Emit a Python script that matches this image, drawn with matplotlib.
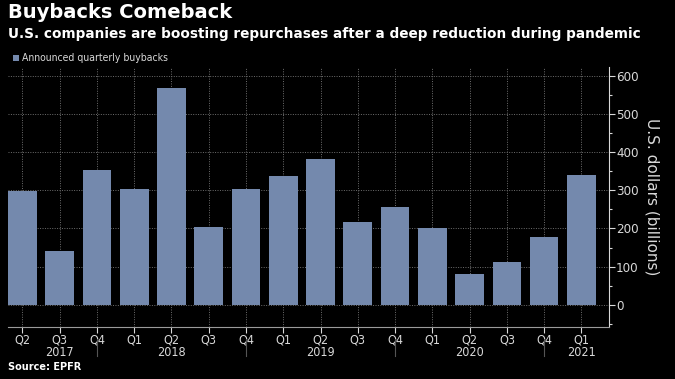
import matplotlib
matplotlib.use("Agg")
import matplotlib.pyplot as plt
from matplotlib.ticker import MultipleLocator
import matplotlib.transforms as mtransforms

# ---------------------------------------------------------------------------
# Data
# ---------------------------------------------------------------------------
quarters = ["Q2", "Q3", "Q4", "Q1", "Q2", "Q3", "Q4", "Q1",
            "Q2", "Q3", "Q4", "Q1", "Q2", "Q3", "Q4", "Q1"]
buybacks = [299, 142, 354, 304, 568, 204, 304, 338,
            383, 217, 257, 202, 82, 111, 179, 339]
year_labels = ["2017", "2018", "2019", "2020", "2021"]
year_label_pos = [1, 4, 8, 12, 15]     # index of quarter the year label sits under
year_sep_pos = [2, 6, 10, 14]          # Q4 ticks carry the year separators

BG = "#000000"
BAR = "#7489ad"
TXT = "#d9d9d9"
GRID = "#6e6e6e"
NARROW = dict(family="DejaVu Sans", stretch="condensed")

fig = plt.figure(figsize=(6.75, 3.79), dpi=100, facecolor=BG)
ax = fig.add_axes([8 / 675, 1 - 327 / 379, (609 - 8) / 675, (327 - 67) / 379])
ax.set_facecolor(BG)

x = list(range(len(buybacks)))
ax.bar(x, buybacks, width=0.77, color=BAR, zorder=2)

ax.set_xlim(-0.385, 15.74)
ax.set_ylim(-58, 623)

# right-hand y axis
ax.yaxis.tick_right()
ax.yaxis.set_label_position("right")
ax.yaxis.set_major_locator(MultipleLocator(100))
ax.yaxis.set_minor_locator(MultipleLocator(50))
ax.tick_params(axis="y", which="major", colors=TXT, length=4, width=0.8,
               labelsize=9.5, pad=1)
ax.tick_params(axis="y", which="minor", colors=TXT, length=2.5, width=0.8)
for lab in ax.get_yticklabels():
    lab.set_stretch("condensed")
ax.set_ylabel("U.S. dollars (billions)", color=TXT, fontsize=11,
              rotation=270, labelpad=15)

# x axis: quarters
ax.set_xticks(x)
ax.set_xticklabels(quarters, fontsize=9, color=TXT, **NARROW)
ax.tick_params(axis="x", colors=TXT, length=4, width=0.8, pad=1)

for side in ["top", "left"]:
    ax.spines[side].set_visible(False)
ax.spines["right"].set_color(TXT)
ax.spines["bottom"].set_color("#9a9a9a")

ax.grid(True, color=GRID, linestyle=(0, (1, 1.5)), linewidth=0.7, zorder=0)
ax.set_axisbelow(True)

# year labels and separators under the quarter labels
trans = mtransforms.blended_transform_factory(ax.transData, ax.transAxes)
for xpos, yr in zip(year_label_pos, year_labels):
    ax.text(xpos, -0.099, yr, transform=trans, ha="center", va="center",
            fontsize=9, color=TXT, **NARROW)
for xpos in year_sep_pos:
    ax.plot([xpos, xpos], [-0.045, -0.11], transform=trans, color="#555555",
            linewidth=0.8, clip_on=False)

# titles, legend, source
fig.text(8 / 675, 1 - 3 / 379, "Buybacks Comeback", color="white",
         fontsize=14, fontweight="bold", va="top", ha="left")
fig.text(8 / 675, 1 - 27 / 379,
         "U.S. companies are boosting repurchases after a deep reduction during pandemic",
         color="white", fontsize=9.8, fontweight="bold", va="top", ha="left")
fig.patches.append(plt.Rectangle((13 / 675, 1 - 61 / 379), 6 / 675, 6 / 379,
                                 transform=fig.transFigure, facecolor=BAR,
                                 edgecolor="none"))
fig.text(22 / 675, 1 - 58 / 379, "Announced quarterly buybacks", color=TXT,
         fontsize=7.5, va="center", ha="left", **NARROW)
fig.text(8 / 675, 1 - 367 / 379, "Source: EPFR", color="white",
         fontsize=7, fontweight="bold", va="center", ha="left")

fig.savefig("out.png", dpi=100, facecolor=BG)
